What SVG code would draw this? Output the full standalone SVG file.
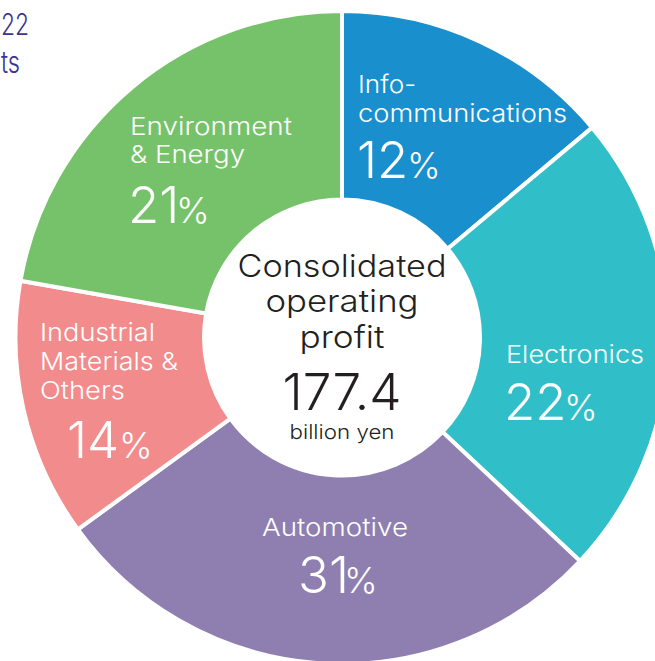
<svg xmlns="http://www.w3.org/2000/svg" width="655" height="661" viewBox="0 0 655 661">
<style>
.seg{stroke:#fff;stroke-width:4;stroke-linejoin:miter}
.lbl{font-family:Inter,"Open Sans","Liberation Sans",sans-serif;font-weight:300;fill:#fff;font-size:24.5px}
.pct{font-family:Inter,"Open Sans","Liberation Sans",sans-serif;font-weight:300;fill:#fff;font-size:51px}
.pc{font-size:36px}
.ctr{font-family:Inter,"Open Sans","Liberation Sans",sans-serif;font-weight:300;fill:#231f20;text-anchor:middle}
.hdr{font-family:Inter,"Open Sans","Liberation Sans",sans-serif;font-weight:300;fill:#3b3393;font-size:30px}
</style>
<rect width="655" height="661" fill="#fff"/>
<g id="header">
<text class="hdr" x="1" y="35" textLength="28" lengthAdjust="spacingAndGlyphs">22</text>
<text class="hdr" x="1" y="73" textLength="19" lengthAdjust="spacingAndGlyphs">ts</text>
</g>
<g id="info">
<path class="seg" fill="#1a8fcd" d="M342 11 A326.5 326.5 0 0 1 592.11 127.63 L447.71 248.79 A138 138 0 0 0 342 199.5 Z"/>
<text class="lbl" x="358" y="93" textLength="58" lengthAdjust="spacingAndGlyphs">Info-</text>
<text class="lbl" x="358" y="122" textLength="209" lengthAdjust="spacingAndGlyphs">communications</text>
<text class="pct" x="357" y="178">12<tspan class="pc" x="407">%</tspan></text>
</g>
<g id="electronics">
<path class="seg" fill="#30bfc8" d="M592.11 127.63 A326.5 326.5 0 0 1 580.01 561.01 L442.6 431.97 A138 138 0 0 0 447.71 248.79 Z"/>
<text class="lbl" x="506" y="363" textLength="138" lengthAdjust="spacingAndGlyphs">Electronics</text>
<text class="pct" x="504" y="420">22<tspan class="pc" x="564">%</tspan></text>
</g>
<g id="automotive">
<path class="seg" fill="#8e7fb0" d="M580.01 561.01 A326.5 326.5 0 0 1 77.86 529.41 L230.36 418.61 A138 138 0 0 0 442.6 431.97 Z"/>
<text class="lbl" x="262" y="536" textLength="146" lengthAdjust="spacingAndGlyphs">Automotive</text>
<text class="pct" x="298" y="593">31<tspan class="pc" x="344">%</tspan></text>
</g>
<g id="industrial">
<path class="seg" fill="#f28b8b" d="M77.86 529.41 A326.5 326.5 0 0 1 20.46 280.8 L206.1 313.54 A138 138 0 0 0 230.36 418.61 Z"/>
<text class="lbl" x="40" y="341" textLength="115" lengthAdjust="spacingAndGlyphs">Industrial</text>
<text class="lbl" x="40" y="370" textLength="138" lengthAdjust="spacingAndGlyphs">Materials &amp;</text>
<text class="lbl" x="40" y="399" textLength="85" lengthAdjust="spacingAndGlyphs">Others</text>
<text class="pct" x="67" y="458">14<tspan class="pc" x="119">%</tspan></text>
</g>
<g id="environment">
<path class="seg" fill="#76c26a" d="M20.46 280.8 A326.5 326.5 0 0 1 342 11 L342 199.5 A138 138 0 0 0 206.1 313.54 Z"/>
<text class="lbl" x="130" y="135" textLength="162" lengthAdjust="spacingAndGlyphs">Environment</text>
<text class="lbl" x="130" y="163" textLength="115" lengthAdjust="spacingAndGlyphs">&amp; Energy</text>
<text class="pct" x="128" y="223">21<tspan class="pc" x="176">%</tspan></text>
</g>
<g id="center">
<text class="ctr" x="342" y="277" font-size="31" textLength="209" lengthAdjust="spacingAndGlyphs">Consolidated</text>
<text class="ctr" x="342" y="312" font-size="31" textLength="153" lengthAdjust="spacingAndGlyphs">operating</text>
<text class="ctr" x="342" y="348" font-size="31" textLength="85" lengthAdjust="spacingAndGlyphs">profit</text>
<text class="ctr" x="342" y="410" font-size="51" textLength="119" lengthAdjust="spacingAndGlyphs">177.4</text>
<text class="ctr" x="342" y="439" font-size="20" textLength="105" lengthAdjust="spacingAndGlyphs">billion yen</text>
</g>
<g id="connectors"></g>
</svg>
